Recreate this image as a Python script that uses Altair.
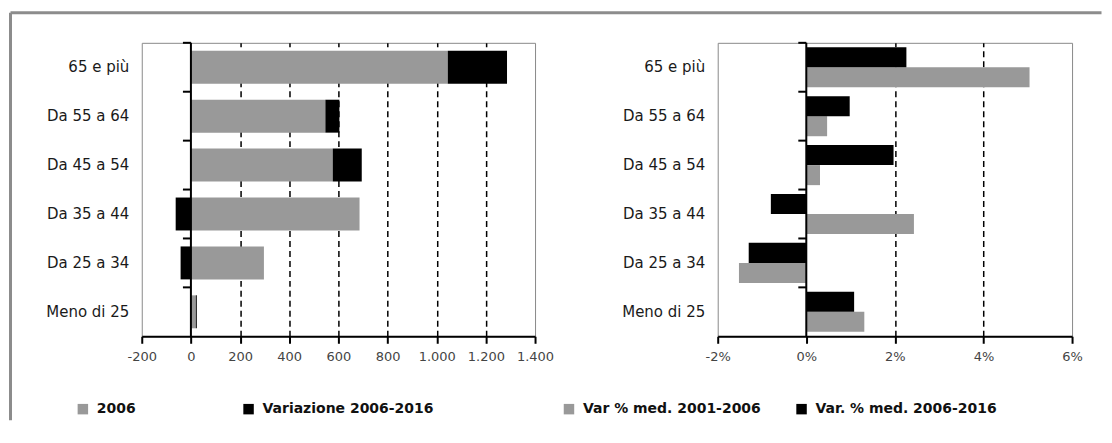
import altair as alt
import pandas as pd

categories = ["65 e più", "Da 55 a 64", "Da 45 a 54", "Da 35 a 44", "Da 25 a 34", "Meno di 25"]

# Left panel: households (thousands) 2006 and change 2006-2016
famiglie_2006 = [1045, 547, 577, 686, 297, 20]
variazione_2006_2016 = [241, 57, 118, -62, -42, 4]
left_series = ["2006", "Variazione 2006-2016"]
left_ticks = [-200, 0, 200, 400, 600, 800, 1000, 1200, 1400]

# Right panel: average yearly % change
var_2001_2006 = [0.0504, 0.0047, 0.0031, 0.0243, -0.0152, 0.0131]
var_2006_2016 = [0.0226, 0.0098, 0.0197, -0.0080, -0.0130, 0.0108]
right_series = ["Var % med. 2001-2006", "Var. % med. 2006-2016"]
right_ticks = [-0.02, 0.0, 0.02, 0.04, 0.06]

GRAY = "#999999"
BLACK = "#000000"

left_rows = []
for c, a, b in zip(categories, famiglie_2006, variazione_2006_2016):
    left_rows.append({"cat": c, "series": left_series[0], "value": a, "ord": 0})
    left_rows.append({"cat": c, "series": left_series[1], "value": b, "ord": 1})
left_df = pd.DataFrame(left_rows)

right_rows = []
for c, a, b in zip(categories, var_2001_2006, var_2006_2016):
    right_rows.append({"cat": c, "series": right_series[0], "value": a})
    right_rows.append({"cat": c, "series": right_series[1], "value": b})
right_df = pd.DataFrame(right_rows)

cat_df = pd.DataFrame({"cat": categories})
one_df = pd.DataFrame({"k": [0]})

y_axis = alt.Axis(title=None, ticks=False, domain=False, labelPadding=13,
                  labelFont="DejaVu Sans", labelFontSize=15, labelColor="#1a1a1a")
y_scale = alt.Scale(paddingInner=0, paddingOuter=0)


def x_axis(values, expr, test):
    return alt.Axis(
        values=values, title=None, labelExpr=expr, labelOverlap=False, labelFlush=False,
        grid=True, gridDash=[6, 4], gridColor="black", gridWidth=1.5,
        gridOpacity={"condition": {"test": test, "value": 0}, "value": 1},
        domainColor="black", domainWidth=2,
        tickColor="black", tickWidth=2, tickSize=7,
        labelPadding=7, labelFont="DejaVu Sans", labelFontSize=13, labelColor="#444444",
    )


def legend(x, y, col_pad):
    return alt.Legend(orient="none", legendX=x, legendY=y, direction="horizontal",
                      title=None, symbolType="square", symbolSize=110,
                      symbolStrokeWidth=0, symbolOpacity=1,
                      labelFont="DejaVu Sans", labelFontWeight="bold", labelFontSize=14,
                      labelColor="#111111", labelOffset=7, columnPadding=col_pad,
                      padding=0, labelLimit=400)


left_x = alt.X("value:Q", stack="zero",
               scale=alt.Scale(domain=[-200, 1400], nice=False, zero=False),
               axis=x_axis(left_ticks,
                           "replace(replace(format(datum.value, ','), ',', '.'), '\u2212', '-')",
                           "datum.value <= -200 || datum.value == 0 || datum.value >= 1400"))

left_bars = alt.Chart(left_df).mark_bar(size=33).encode(
    y=alt.Y("cat:N", sort=categories, scale=y_scale, axis=y_axis),
    x=left_x,
    color=alt.Color("series:N", scale=alt.Scale(domain=left_series, range=[GRAY, BLACK]),
                    legend=legend(-66, 360, 106)),
    order=alt.Order("ord:Q"),
)

left_zero = alt.Chart(one_df).mark_rule(color="black", strokeWidth=2).encode(x=alt.datum(0))
left_cticks = alt.Chart(cat_df).mark_rule(color="black", strokeWidth=2, xOffset=-8).encode(
    y=alt.Y("cat:N", sort=categories, bandPosition=0),
    x=alt.datum(0), x2=alt.datum(0),
)
frame_top = alt.Chart(one_df).mark_rule(color="#8c8c8c", strokeWidth=3).encode(
    x=alt.value(-131.5), x2=alt.value(961.5), y=alt.value(-30))
frame_left = alt.Chart(one_df).mark_rule(color="#8c8c8c", strokeWidth=3).encode(
    x=alt.value(-131.5), y=alt.value(-30), y2=alt.value(378))

left = alt.layer(frame_top, frame_left, left_bars, left_zero, left_cticks).properties(
    width=394, height=294)

right_x = alt.X("value:Q",
                scale=alt.Scale(domain=[-0.02, 0.06], nice=False, zero=False),
                axis=x_axis(right_ticks,
                            "replace(format(datum.value, '.0%'), '\u2212', '-')",
                            "datum.value < -0.019 || abs(datum.value) < 0.0001 || datum.value > 0.059"))

right_bars = alt.Chart(right_df).mark_bar().encode(
    y=alt.Y("cat:N", sort=categories, scale=y_scale, axis=y_axis),
    yOffset=alt.YOffset("series:N", sort=[right_series[1], right_series[0]],
                        scale=alt.Scale(paddingInner=0, paddingOuter=0.22)),
    x=right_x,
    color=alt.Color("series:N", scale=alt.Scale(domain=right_series, range=[GRAY, BLACK]),
                    legend=legend(-156, 360, 33)),
)
right_zero = alt.Chart(one_df).mark_rule(color="black", strokeWidth=2).encode(x=alt.datum(0))
right_cticks = alt.Chart(cat_df).mark_rule(color="black", strokeWidth=2, xOffset=-8).encode(
    y=alt.Y("cat:N", sort=categories, bandPosition=0),
    x=alt.datum(0), x2=alt.datum(0),
)

right = alt.layer(right_bars, right_zero, right_cticks).properties(width=355, height=294)

chart = alt.hconcat(left, right, spacing=183, bounds="flush").resolve_scale(
    color="independent"
).properties(
    padding={"left": 0, "top": 2.5, "right": 0, "bottom": 0},
    background="white",
).configure(font="DejaVu Sans").configure_view(stroke="#8a8a8a", strokeWidth=1)

chart.save("out.html", embed_options={"renderer": "svg", "actions": False})
